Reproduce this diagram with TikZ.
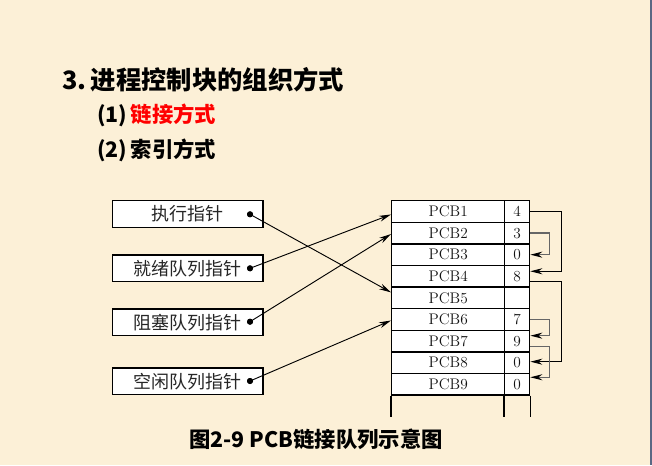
\documentclass[tikz,border=0pt]{standalone}
\usepackage{fontspec}
\newfontfamily\cjk{Noto Sans CJK SC}
\usetikzlibrary{arrows.meta,calc}
\definecolor{bg}{HTML}{FCF0D7}
\definecolor{lk}{HTML}{666666}
\definecolor{edge}{HTML}{5A6884}
\begin{document}
\begin{tikzpicture}[x=0.75pt,y=-0.75pt,
  ptrbox/.style={draw, fill=white, line width=0.9pt, minimum width=113pt, minimum height=20pt, inner sep=0pt, anchor=north west, font=\cjk\fontsize{13.5}{15}\selectfont, text=black!85},
  namecell/.style={draw, fill=white, line width=1pt, minimum width=84.75pt, minimum height=16.2pt, inner sep=0pt, anchor=north west, font=\fontsize{11.5}{13}\selectfont, text=black!92},
  numcell/.style={draw, fill=white, line width=1pt, minimum width=18.75pt, minimum height=16.2pt, inner sep=0pt, anchor=north west, font=\fontsize{11.5}{13}\selectfont, text=black!92},
  dotn/.style={circle, fill=black, inner sep=0pt, minimum size=4.5pt},
  ptr/.style={line width=0.7pt, -{Stealth[length=9pt,width=4.5pt]}},
  blk/.style={line width=0.75pt, -{Stealth[length=9pt,width=4.5pt]}},
  gry/.style={draw=lk, line width=1pt, -{Stealth[length=9pt,width=4.5pt,color=black]}},
  title/.style={font=\cjk\bfseries\fontsize{19}{22}\selectfont, anchor=west, inner sep=0pt}
]
\fill[bg] (0,0) rectangle (652,465);
\useasboundingbox (0,0) rectangle (652,465);
\fill[edge] (649.8,0) rectangle (652,465);

% titles
\node[title] (t1) at (62,80) {3.\,进程控制块的组织方式};
\node[title, font=\cjk\bfseries\fontsize{16}{19}\selectfont] (t2) at (97,115) {(1)\,\textcolor{red}{链接方式}};
\node[title, font=\cjk\bfseries\fontsize{16}{19}\selectfont] (t3) at (97,150) {(2)\,索引方式};
\node[title, font=\cjk\bfseries\fontsize{16}{19}\selectfont] (cap) at (189,439) {图2-9 PCB链接队列示意图};

% pointer boxes
\node[ptrbox] (b1) at (111.7,200) {执行指针};
\node[ptrbox] (b2) at (111.7,254.3) {就绪队列指针};
\node[ptrbox] (b3) at (111.7,308.3) {阻塞队列指针};
\node[ptrbox] (b4) at (111.7,367.3) {空闲队列指针};
\node[dotn] (d1) at (250,214.3) {};
\node[dotn] (d2) at (250,268.3) {};
\node[dotn] (d3) at (250,321.7) {};
\node[dotn] (d4) at (250,381) {};

% PCB table
\foreach \i/\v in {1/4,2/3,3/0,4/8,5/,6/7,7/9,8/0,9/0}{
  \node[namecell] (p\i) at (391,{200+21.6*(\i-1)}) {PCB\i};
  \node[numcell] (n\i) at (504,{200+21.6*(\i-1)}) {\v};
}
\draw[line width=1pt] (p9.south west) -- ++(0,21);
\draw[line width=1pt] (n9.south west) -- ++(0,21);
\draw[line width=1pt] (n9.south east) -- ++(0,21);

% pointer arrows
\draw[ptr] (d1.center) -- ($(p5.west)+(0,-5.5)$);
\draw[ptr] (d2.center) -- ($(p1.west)+(0,3)$);
\draw[ptr] (d3.center) -- ($(p2.west)+(0,1)$);
\draw[ptr] (d4.center) -- ($(p6.west)+(0,1)$);
\node[dotn] at (d1) {};
\node[dotn] at (d2) {};
\node[dotn] at (d3) {};
\node[dotn] at (d4) {};

% link arrows
\draw[blk] (n1.east) -- ++(31,0) |- ($(n4.east)+(0,-5)$);
\draw[gry] (n2.east) -- ++(19,0) |- (n3.east);
\draw[blk] ($(n4.east)+(0,5.4)$) -- ++(31,0) |- ($(n8.east)+(0,-1)$);
\draw[gry] (n6.east) -- ++(19,0) |- ($(n7.east)+(0,-5.4)$);
\draw[gry] ($(n7.east)+(0,5.3)$) -- ++(19,0) |- ($(n9.east)+(0,-7)$);
\end{tikzpicture}
\end{document}
